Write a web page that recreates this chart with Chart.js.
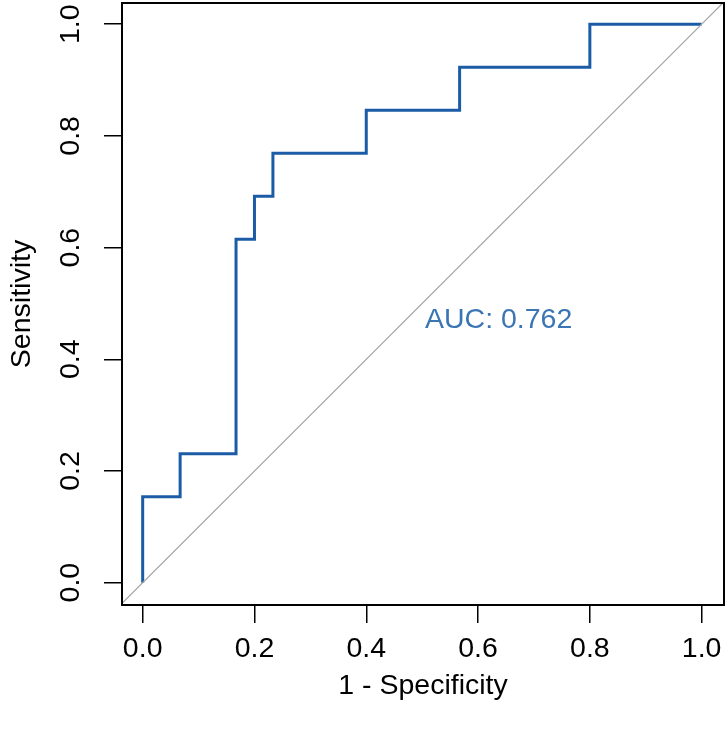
<!DOCTYPE html>
<html>
<head>
<meta charset="utf-8">
<script src="https://cdn.jsdelivr.net/npm/chart.js@4/dist/chart.umd.min.js"></script>
<style>
  html, body { margin: 0; padding: 0; background: #fff; }
  #wrap { width: 728px; height: 731px; position: relative; }
</style>
</head>
<body>
<div id="wrap"><canvas id="rocChart"></canvas></div>
<script>
// ROC corner points (1 - specificity, sensitivity), step drawn vertical-first
const fpr = [0, 0.067, 0.167, 0.2, 0.233, 0.4, 0.567, 0.8, 1.0];
const sensitivity = [0, 0.154, 0.231, 0.615, 0.692, 0.769, 0.846, 0.923, 1.0];
const diagonalX = [-0.1, 1.1];
const tickValues = [0, 0.2, 0.4, 0.6, 0.8, 1.0];
const aucLabel = 'AUC: 0.762';
const xTitle = '1 - Specificity';
const yTitle = 'Sensitivity';

const FONT = "'Liberation Sans', Arial, sans-serif";
const FONT_SIZE = 28.5;

const boxAndLabel = {
  id: 'boxAndLabel',
  afterDraw(chart) {
    const { ctx, chartArea: a, scales } = chart;
    ctx.save();
    ctx.strokeStyle = '#000';
    ctx.lineWidth = 2;
    ctx.strokeRect(a.left, a.top, a.right - a.left, a.bottom - a.top);
    ctx.fillStyle = '#3a76b3';
    ctx.font = `${FONT_SIZE}px ${FONT}`;
    ctx.textAlign = 'left';
    ctx.textBaseline = 'middle';
    ctx.fillText(aucLabel, scales.x.getPixelForValue(0.505), scales.y.getPixelForValue(0.47));
    ctx.restore();
  },
};

function fixedTicks(scale) {
  scale.ticks = tickValues.map(v => ({ value: v }));
}

new Chart(document.getElementById('rocChart').getContext('2d'), {
  type: 'line',
  data: {
    datasets: [
      {
        data: diagonalX.map(v => ({ x: v, y: v })),
        borderColor: '#a6a6a6',
        borderWidth: 1.2,
        pointRadius: 0,
      },
      {
        data: fpr.map((x, i) => ({ x, y: sensitivity[i] })),
        borderColor: '#1c5ca6',
        borderWidth: 3,
        stepped: 'after',
        pointRadius: 0,
        borderJoinStyle: 'miter',
      },
    ],
  },
  options: {
    responsive: true,
    maintainAspectRatio: false,
    animation: false,
    layout: { padding: { top: 3, right: 4, left: 0, bottom: 0 } },
    plugins: {
      legend: { display: false },
      tooltip: { enabled: false },
    },
    scales: {
      x: {
        type: 'linear',
        min: -0.037,
        max: 1.04,
        afterBuildTicks: fixedTicks,
        afterFit: s => { s.height = 126; s.paddingLeft = 0; s.paddingRight = 0; },
        grid: {
          drawOnChartArea: false,
          drawTicks: true,
          tickLength: 18,
          color: '#000',
          lineWidth: 1.5,
        },
        border: { display: false },
        ticks: {
          autoSkip: false,
          maxRotation: 0,
          padding: 9,
          color: '#000',
          font: { family: FONT, size: FONT_SIZE },
          callback: v => v.toFixed(1),
        },
        title: {
          display: true,
          text: xTitle,
          color: '#000',
          font: { family: FONT, size: FONT_SIZE },
          padding: { top: 0, bottom: 28 },
        },
      },
      y: {
        type: 'linear',
        min: -0.04,
        max: 1.038,
        afterBuildTicks: fixedTicks,
        afterFit: s => { s.width = 122; s.paddingTop = 0; s.paddingBottom = 0; },
        grid: {
          drawOnChartArea: false,
          drawTicks: true,
          tickLength: 18,
          color: '#000',
          lineWidth: 1.5,
        },
        border: { display: false },
        ticks: {
          autoSkip: false,
          minRotation: 90,
          maxRotation: 90,
          crossAlign: 'center',
          padding: 13,
          color: '#000',
          font: { family: FONT, size: FONT_SIZE },
          callback: v => v.toFixed(1),
        },
        title: {
          display: true,
          text: yTitle,
          color: '#000',
          font: { family: FONT, size: FONT_SIZE },
          padding: { top: 5, bottom: 0 },
        },
      },
    },
  },
  plugins: [boxAndLabel],
});
</script>
</body>
</html>
